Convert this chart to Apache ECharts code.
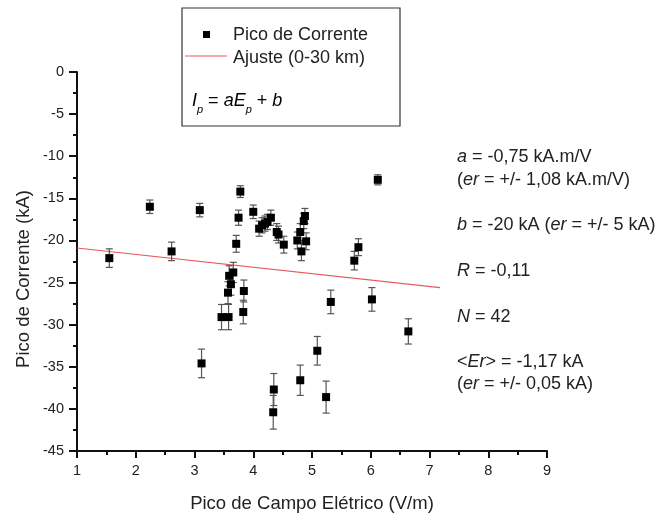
<!DOCTYPE html>
<html>
<head>
<meta charset="utf-8">
<script src="https://cdn.jsdelivr.net/npm/echarts@6/dist/echarts.min.js"></script>
<style>
html,body{margin:0;padding:0;background:#fff;}
#chart{width:667px;height:518px;}
</style>
</head>
<body>
<div id="chart"></div>
<script>
// pico de campo eletrico (V/m)
var campo = [1.55,2.24,2.61,3.09,3.12,3.46,3.58,3.57,3.59,3.62,3.66,3.71,3.75,3.78,3.84,3.83,4.00,4.10,4.15,4.20,4.24,4.30,4.40,4.43,4.52,4.35,4.34,4.75,4.80,4.82,4.86,4.88,4.90,4.80,5.09,5.24,5.32,5.72,5.79,6.02,6.12,6.64];
// pico de corrente (kA)
var corrente = [-22.1,-16.0,-21.3,-16.4,-34.6,-29.1,-29.1,-26.2,-24.2,-25.2,-23.8,-20.4,-17.3,-14.2,-26.0,-28.5,-16.6,-18.6,-18.2,-18.0,-17.8,-17.3,-19.0,-19.3,-20.5,-37.7,-40.4,-20.0,-19.0,-21.3,-17.7,-17.1,-20.1,-36.6,-33.1,-38.6,-27.3,-22.4,-20.8,-27.0,-12.8,-30.8];
// barras de erro (kA)
var erro = [1.1,0.8,1.1,0.8,1.7,1.5,1.5,1.3,1.2,1.3,1.2,1.0,0.9,0.7,1.3,1.4,0.8,0.9,0.9,0.9,0.9,0.9,1.0,1.0,1.0,1.9,2.0,1.0,1.0,1.1,0.9,0.9,1.0,1.8,1.7,1.9,1.4,1.1,1.0,1.4,0.6,1.5];
// reta de ajuste (0-30 km)
var ajusteX = [1, 7.18];
var ajusteY = [-20.9, -25.6];

var font = 'Liberation Sans, Arial, sans-serif';
var cor = '#222';

var pontos = [];
var barras = [];
for (var i = 0; i < campo.length; i++) {
	pontos.push([campo[i], corrente[i]]);
	barras.push([campo[i], corrente[i], erro[i]]);
}
var reta = [];
for (var j = 0; j < ajusteX.length; j++) {
	reta.push([ajusteX[j], ajusteY[j]]);
}

// texto com partes em italico
function rotulo(x, y, txt, size) {
	return {
		type: 'text', x: x, y: y, z: 11,
		style: {
			text: txt,
			fontSize: size, fontFamily: font, fill: cor, verticalAlign: 'middle',
			rich: {
				i: {fontStyle: 'italic', fontSize: size, fontFamily: font, color: cor},
				n: {fontSize: size, fontFamily: font, color: cor}
			}
		}
	};
}

var chart = echarts.init(document.getElementById('chart'));
var eixo = {color: '#111', width: 2};
var option = {
	animation: false,
	backgroundColor: '#fff',
	textStyle: {fontFamily: font},
	grid: {left: 77, right: 120, top: 72, bottom: 65},
	xAxis: {
		type: 'value', min: 1, max: 9, interval: 1,
		name: 'Pico de Campo Elétrico (V/m)',
		nameLocation: 'middle', nameGap: 43,
		nameTextStyle: {fontSize: 18.5, color: cor, fontFamily: font},
		axisLine: {onZero: false, lineStyle: eixo},
		axisTick: {inside: false, length: 7, lineStyle: eixo},
		minorTick: {show: true, splitNumber: 2, length: 4, lineStyle: eixo},
		axisLabel: {fontSize: 14.5, color: cor, margin: 12, fontFamily: font},
		splitLine: {show: false}
	},
	yAxis: {
		type: 'value', min: -45, max: 0, interval: 5,
		axisLine: {onZero: false, lineStyle: eixo},
		axisTick: {inside: false, length: 8, lineStyle: eixo},
		minorTick: {show: true, splitNumber: 2, length: 4, lineStyle: eixo},
		axisLabel: {fontSize: 14.5, color: cor, margin: 13, fontFamily: font},
		splitLine: {show: false}
	},
	series: [
		{
			name: 'erro',
			type: 'custom',
			data: barras,
			z: 2,
			renderItem: function (params, api) {
				var x = api.value(0), y = api.value(1), e = api.value(2);
				var top = api.coord([x, y + e]);
				var bot = api.coord([x, y - e]);
				var cap = 3.5;
				var st = {stroke: '#555', lineWidth: 1.2};
				return {
					type: 'group',
					children: [
						{type: 'line', shape: {x1: top[0], y1: top[1], x2: bot[0], y2: bot[1]}, style: st},
						{type: 'line', shape: {x1: top[0] - cap, y1: top[1], x2: top[0] + cap, y2: top[1]}, style: st},
						{type: 'line', shape: {x1: bot[0] - cap, y1: bot[1], x2: bot[0] + cap, y2: bot[1]}, style: st}
					]
				};
			}
		},
		{
			name: 'Pico de Corrente',
			type: 'scatter',
			data: pontos,
			symbol: 'rect',
			symbolSize: 8,
			z: 3,
			itemStyle: {color: '#000', opacity: 1}
		},
		{
			name: 'Ajuste (0-30 km)',
			type: 'line',
			data: reta,
			symbol: 'none',
			z: 1,
			lineStyle: {color: '#e55a5e', width: 1.2}
		}
	],
	graphic: [
		// titulo do eixo y
		{type: 'text', x: 24, y: 279, rotation: Math.PI / 2, z: 11,
			style: {text: 'Pico de Corrente (kA)', fontSize: 18.5, fontFamily: font, fill: cor, align: 'center', verticalAlign: 'middle'}},
		// caixa da legenda
		{type: 'rect', x: 182, y: 8, shape: {width: 218, height: 118}, style: {fill: '#fff', stroke: '#333', lineWidth: 1.2}, z: 10},
		{type: 'rect', x: 203, y: 31, shape: {width: 7, height: 7}, style: {fill: '#000'}, z: 11},
		{type: 'line', shape: {x1: 185, y1: 56, x2: 227, y2: 56}, style: {stroke: '#e55a5e', lineWidth: 1.2}, z: 11},
		rotulo(233, 35, 'Pico de Corrente', 18),
		rotulo(233, 58, 'Ajuste (0-30 km)', 18),
		{type: 'text', x: 192, y: 92, z: 11, style: {
			text: '{i|I}{s|p}{n| = }{i|aE}{s|p}{n| + }{i|b}',
			rich: {
				i: {fontStyle: 'italic', fontSize: 18, fontFamily: font, color: cor, verticalAlign: 'top'},
				n: {fontSize: 18, fontFamily: font, color: cor, verticalAlign: 'top'},
				s: {fontStyle: 'italic', fontSize: 11, fontFamily: font, color: cor, verticalAlign: 'bottom', padding: [12, 0, 0, 0]}
			}
		}},
		// resultados do ajuste
		rotulo(457, 157, '{i|a}{n| = -0,75 kA.m/V}', 18),
		rotulo(457, 180, '{n|(}{i|er}{n| = +/- 1,08 kA.m/V)}', 18),
		rotulo(457, 225, '{i|b}{n| = -20 kA (}{i|er}{n| = +/- 5 kA)}', 18),
		rotulo(457, 271, '{i|R}{n| = -0,11}', 18),
		rotulo(457, 317, '{i|N}{n| = 42}', 18),
		rotulo(457, 362, '{n|<}{i|Er}{n|> = -1,17 kA}', 18),
		rotulo(457, 384, '{n|(}{i|er}{n| = +/- 0,05 kA)}', 18)
	]
};
chart.setOption(option);
</script>
</body>
</html>
